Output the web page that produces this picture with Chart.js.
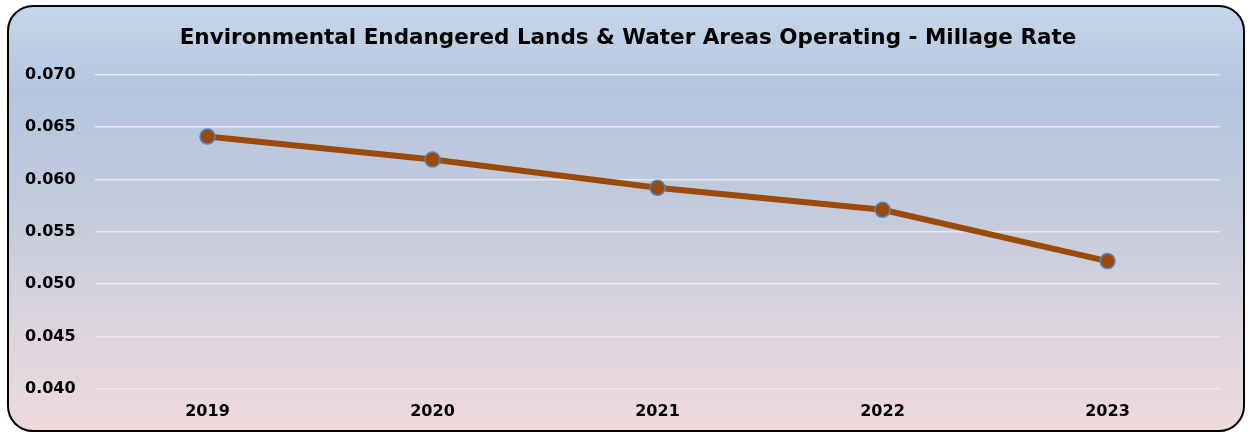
<!DOCTYPE html>
<html lang="en">
<head>
<meta charset="UTF-8">
<title>Environmental Endangered Lands & Water Areas Operating - Millage Rate</title>
<style>
    body { margin: 0; width: 1249px; height: 434px; background: #fff; position: relative; overflow: hidden; }
    .frame {
        position: absolute;
        left: 7px; top: 5px;
        width: 1234px; height: 423px;
        border: 2.5px solid #000;
        border-radius: 26px;
        background: linear-gradient(to bottom, #c6d6ea 0%, #b4c6de 20%, #c4cbdc 50%, #dcd5de 75%, #eedadc 100%);
    }
    #millageChart { position: absolute; left: 0; top: 0; display: block; }
</style>
</head>
<body>
<div class="frame"></div>
<canvas id="millageChart" width="1249" height="434"></canvas>

<script src="https://cdn.jsdelivr.net/npm/chart.js"></script>
<script>
    // data
    const years = ["2019", "2020", "2021", "2022", "2023"];
    const millage = [0.0641, 0.0619, 0.0592, 0.0571, 0.0522];
    const yTicks = [0.040, 0.045, 0.050, 0.055, 0.060, 0.065, 0.070];

    const fontFamily = "'DejaVu Sans', sans-serif";

    const ctx = document.getElementById("millageChart").getContext("2d");
    const chart = new Chart(ctx, {
        type: "line",
        data: {
            labels: years,
            datasets: [{
                label: "Millage Rate",
                data: millage,
                borderColor: "#9c4a0a",
                borderWidth: 6,
                pointRadius: 7.5,
                pointBackgroundColor: "#9c4a0a",
                pointBorderColor: "#4f86c6",
                pointBorderWidth: 1.5,
                tension: 0
            }]
        },
        options: {
            responsive: false,
            maintainAspectRatio: false,
            animation: false,
            // left padding shifts the title centre; the y axis width makes up the rest
            layout: { padding: { top: 16, right: 29, bottom: 0, left: 36 } },
            plugins: {
                legend: { display: false },
                tooltip: { enabled: false },
                title: {
                    display: true,
                    text: "Environmental Endangered Lands & Water Areas Operating - Millage Rate",
                    color: "#000",
                    font: { family: fontFamily, size: 21.5, weight: "bold" },
                    padding: { top: 10, bottom: 23 }
                }
            },
            scales: {
                x: {
                    offset: true,
                    grid: { display: false, drawTicks: false },
                    border: { display: false },
                    ticks: {
                        color: "#000",
                        padding: 13,
                        font: { family: fontFamily, size: 16, weight: "bold" }
                    }
                },
                y: {
                    min: yTicks[0],
                    max: yTicks[yTicks.length - 1],
                    afterBuildTicks: (scale) => { scale.ticks = yTicks.map(v => ({ value: v })); },
                    afterFit: (scale) => { scale.width = 59; },
                    grid: { color: "rgba(235,235,240,0.9)", lineWidth: 1.5, drawTicks: false },
                    border: { display: false },
                    ticks: {
                        color: "#000",
                        // mirrored so the labels are not clipped to the narrow axis box
                        mirror: true,
                        padding: -70,
                        font: { family: fontFamily, size: 16, weight: "bold" },
                        callback: (v) => Number(v).toFixed(3)
                    }
                }
            }
        }
    });
</script>
</body>
</html>
